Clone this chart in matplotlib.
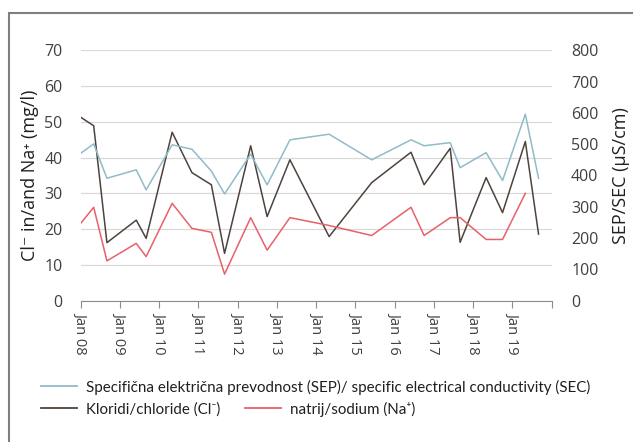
import numpy as np
import pandas as pd
import matplotlib
matplotlib.use("Agg")
import matplotlib.pyplot as plt
import matplotlib.dates as mdates
from matplotlib.lines import Line2D
from matplotlib.patches import Rectangle

# sampling dates
dates = ["2008-01", "2008-05", "2008-09", "2009-06", "2009-09", "2010-05",
         "2010-11", "2011-05", "2011-09", "2012-05", "2012-10", "2013-05",
         "2014-05", "2015-06", "2016-06", "2016-10", "2017-06", "2017-09",
         "2018-05", "2018-10", "2019-05", "2019-09"]

# specific electrical conductivity, uS/cm (right axis)
sep = [471, 501, 391, 418, 354, 498, 484, 414, 341, 468, 370, 514,
       532, 450, 514, 495, 505, 425, 473, 384, 596, 391]

# chloride, mg/l (left axis)
chloride = [51.3, 48.9, 16.2, 22.5, 17.4, 47.1, 35.8, 32.4, 13.2, 43.3, 23.5, 39.4,
            17.9, 33.0, 41.5, 32.4, 42.6, 16.3, 34.4, 24.6, 44.5, 18.6]

# sodium, mg/l (left axis) - no value for the last date
sodium = [21.6, 26.1, 11.1, 16.0, 12.3, 27.2, 20.2, 19.1, 7.4, 23.2, 14.1, 23.2,
          21.0, 18.2, 26.1, 18.2, 23.2, 23.2, 17.1, 17.1, 30.0, None]

left_ticks = [0, 10, 20, 30, 40, 50, 60, 70]
right_ticks = [0, 100, 200, 300, 400, 500, 600, 700, 800]

c_sep = "#8fbcc8"
c_cl = "#4e433d"
c_na = "#e8606a"
c_text = "#404040"
fam = ["Open Sans", "DejaVu Sans"]

x = pd.to_datetime(dates)
na = np.array([np.nan if v is None else v for v in sodium], dtype=float)

fig = plt.figure(figsize=(6.33, 4.42), dpi=100)
ax = fig.add_axes([0.1275, 0.32, 0.744, 0.566])
ax2 = ax.twinx()

ax.plot(x, chloride, color=c_cl, lw=1.1, zorder=3)
ax.plot(x, na, color=c_na, lw=1.1, zorder=3)
ax2.plot(x, sep, color=c_sep, lw=1.1, zorder=2)

ax.set_ylim(0, 70)
ax.set_yticks(left_ticks)
ax2.set_ylim(0, 800)
ax2.set_yticks(right_ticks)
ax.grid(axis="y", color="#d9d9d9", lw=0.9)
ax.set_axisbelow(True)

ax.set_xlim(pd.Timestamp("2008-01-01"), pd.Timestamp("2020-01-01"))
ax.xaxis.set_major_locator(mdates.YearLocator())


def fmt(val, pos):
    d = mdates.num2date(val)
    if d.year >= 2020:
        return ""
    return d.strftime("Jan %y")


ax.xaxis.set_major_formatter(plt.FuncFormatter(fmt))

for a in (ax, ax2):
    for s in ("top", "left", "right"):
        a.spines[s].set_visible(False)
ax2.spines["bottom"].set_visible(False)
ax.spines["bottom"].set_color("#8c8c8c")
ax.tick_params(axis="x", length=5, color="#8c8c8c", rotation=-90,
               labelsize=10.5, labelcolor=c_text, pad=3)
ax.tick_params(axis="y", length=0, pad=13, labelsize=11.5, labelcolor=c_text)
ax2.tick_params(axis="y", length=0, pad=14, labelsize=11.5, labelcolor=c_text)
for lab in ax.get_xticklabels() + ax.get_yticklabels() + ax2.get_yticklabels():
    lab.set_family("Open Sans")

ax.set_ylabel("Cl\u207b in/and Na\u207a (mg/l)", fontsize=13, color="#202020",
              family=fam, labelpad=4)
ax2.set_ylabel("SEP/SEC (\u00b5S/cm)", fontsize=13, color="#202020",
               family=fam, labelpad=10)

# legend: one long entry on the first row, two on the second
h_sep = Line2D([], [], color=c_sep, lw=1.3)
h_cl = Line2D([], [], color=c_cl, lw=1.3)
h_na = Line2D([], [], color=c_na, lw=1.3)
leg_font = {"family": ["Lato", "DejaVu Sans"], "size": 10.9}
fig.legend([h_sep], ["Specifična električna prevodnost (SEP)/ specific electrical conductivity (SEC)"],
           loc="upper left", bbox_to_anchor=(0.055, 0.155), frameon=False,
           prop=leg_font, handlelength=2.4, handletextpad=0.6, borderaxespad=0,
           labelcolor="#202020")
fig.legend([h_cl, h_na], ["Kloridi/chloride (Cl\u207b)", "natrij/sodium (Na\u207a)"],
           loc="upper left", bbox_to_anchor=(0.055, 0.105), frameon=False, ncol=2,
           prop=leg_font, handlelength=2.4, handletextpad=0.6, borderaxespad=0,
           columnspacing=1.6, labelcolor="#202020")

# outer frame (cut off at right and bottom in the original)
fig.patches.append(Rectangle((9 / 633, -0.1), 1.2, 1 - 13 / 442 + 0.1,
                             transform=fig.transFigure, fill=False,
                             edgecolor="#7f7f7f", lw=1.5))

fig.savefig("out.png", dpi=100)
